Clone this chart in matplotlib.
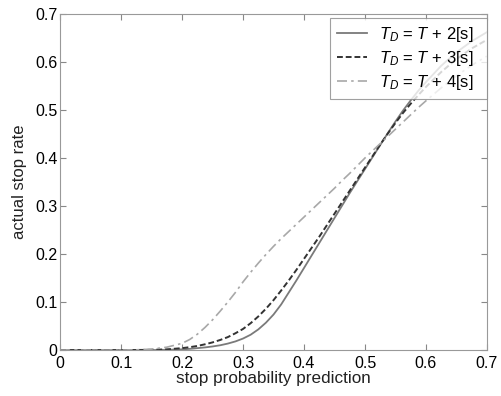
import matplotlib
matplotlib.use("Agg")
import matplotlib.pyplot as plt

plt.rcParams['font.family'] = ['Liberation Sans', 'DejaVu Sans']
plt.rcParams['mathtext.fontset'] = 'custom'
plt.rcParams['mathtext.it'] = 'Liberation Sans:italic'
plt.rcParams['mathtext.rm'] = 'Liberation Sans'

x = [0, 0.05, 0.1, 0.125, 0.15, 0.175,
     0.2, 0.2125, 0.225, 0.2375, 0.25, 0.2625, 0.275, 0.2875, 0.3, 0.3125, 0.325,
     0.3375, 0.35, 0.3625, 0.375, 0.3875, 0.4, 0.4125, 0.425, 0.4375, 0.45, 0.4625,
     0.475, 0.4875, 0.5, 0.5125, 0.525, 0.5375, 0.55, 0.5625, 0.575, 0.5875, 0.6,
     0.625, 0.65, 0.675, 0.7]

td2 = [0, 0, 0, 0, 0, 0.0005,
       0.0015, 0.0025, 0.004, 0.0055, 0.0075, 0.010, 0.0135, 0.018, 0.024, 0.032, 0.043,
       0.057, 0.074, 0.095, 0.12, 0.145, 0.171, 0.197, 0.223, 0.249, 0.275, 0.301,
       0.327, 0.352, 0.377, 0.402, 0.427, 0.452, 0.476, 0.499, 0.52, 0.54, 0.558,
       0.592, 0.62, 0.643, 0.662]
td3 = [0, 0, 0, 0.0002, 0.0005, 0.0015,
       0.004, 0.006, 0.0085, 0.012, 0.016, 0.021, 0.027, 0.035, 0.044, 0.056, 0.07,
       0.086, 0.104, 0.124, 0.145, 0.167, 0.19, 0.213, 0.236, 0.26, 0.284, 0.308,
       0.332, 0.356, 0.38, 0.404, 0.428, 0.451, 0.473, 0.494, 0.513, 0.531, 0.548,
       0.579, 0.606, 0.628, 0.646]
td4 = [0, 0, 0, 0.0005, 0.002, 0.006,
       0.014, 0.022, 0.033, 0.047, 0.063, 0.081, 0.1, 0.12, 0.142, 0.162, 0.181,
       0.199, 0.216, 0.232, 0.247, 0.262, 0.277, 0.292, 0.307, 0.322, 0.337, 0.353,
       0.368, 0.384, 0.4, 0.415, 0.43, 0.445, 0.46, 0.475, 0.49, 0.505, 0.519,
       0.546, 0.571, 0.593, 0.612]

labels = [r'$T_D$ = $T$ + 2[s]  ', r'$T_D$ = $T$ + 3[s]  ', r'$T_D$ = $T$ + 4[s]  ']
ticks = [0, 0.1, 0.2, 0.3, 0.4, 0.5, 0.6, 0.7]
tick_labels = ['0', '0.1', '0.2', '0.3', '0.4', '0.5', '0.6', '0.7']

fig = plt.figure(figsize=(5.01, 3.96), dpi=100)
ax = fig.add_axes([0.12, 0.116, 0.852, 0.849])

ax.plot(x, td2, color='#7a7a7a', lw=1.3, ls='-', label=labels[0])
ax.plot(x, td3, color='#333333', lw=1.4, ls=(0, (3, 1.5)), label=labels[1])
ax.plot(x, td4, color='#a8a8a8', lw=1.2, ls=(0, (6, 2.5, 1.5, 2.5)), label=labels[2])

ax.set_xlim(0, 0.7)
ax.set_ylim(0, 0.7)
ax.set_xticks(ticks)
ax.set_xticklabels(tick_labels)
ax.set_yticks(ticks)
ax.set_yticklabels(tick_labels)
ax.tick_params(direction='in', top=True, right=True, labelsize=11.5, length=4,
               color='#888888')
ax.tick_params(axis='x', pad=4)
ax.tick_params(axis='y', pad=2)
for s in ax.spines.values():
    s.set_color('#999999')
    s.set_linewidth(0.8)

ax.set_xlabel('stop probability prediction', fontsize=12.3, labelpad=0, color='#222222')
ax.set_ylabel('actual stop rate', fontsize=12, labelpad=6, color='#222222')

leg = ax.legend(loc='upper right', bbox_to_anchor=(1.0, 0.988), fontsize=12,
                frameon=True, fancybox=False, edgecolor='#888888', borderaxespad=0,
                handlelength=1.8, labelspacing=0.3, borderpad=0.42,
                handletextpad=0.75)
leg.get_frame().set_linewidth(0.8)

fig.savefig('out.png', dpi=100)
